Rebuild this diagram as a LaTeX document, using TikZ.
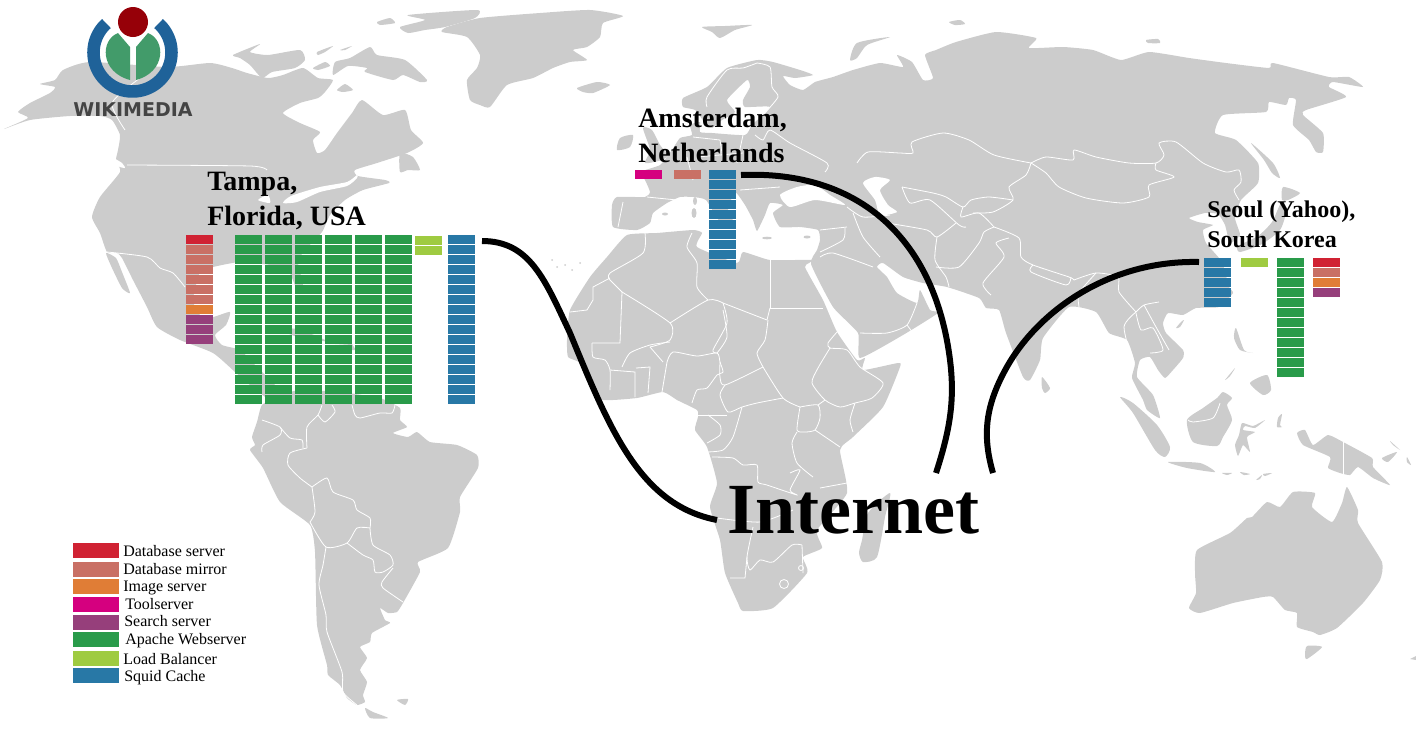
\documentclass[tikz,border=0pt]{standalone}
\usepackage{fontspec}
\setmainfont{Liberation Serif}
\newfontfamily\logofont{DejaVu Sans}
\usetikzlibrary{positioning}
\definecolor{mapgrey}{HTML}{CCCCCC}
\definecolor{dbserver}{HTML}{D02233}
\definecolor{dbmirror}{HTML}{C97065}
\definecolor{imgserver}{HTML}{E07D36}
\definecolor{toolserver}{HTML}{D5007F}
\definecolor{searchserver}{HTML}{963F7B}
\definecolor{apacheweb}{HTML}{299B4A}
\definecolor{loadbal}{HTML}{9FCB41}
\definecolor{squidcache}{HTML}{2878A6}
\definecolor{logoblue}{HTML}{1F6299}
\definecolor{logogreen}{HTML}{429B6A}
\definecolor{logored}{HTML}{960008}
\definecolor{logotext}{HTML}{444444}
\tikzset{
  land/.style={fill=mapgrey},
  water/.style={fill=white},
  border/.style={draw=white, line width=0.6pt},
  rack/.style={anchor=north west, inner sep=0pt, minimum width=20.25pt, minimum height=6.75pt},
  swatch/.style={anchor=north west, inner sep=0pt, minimum width=34.5pt, minimum height=11.25pt},
  legendtext/.style={anchor=base west, inner sep=0pt, font=\fontsize{12}{14}\selectfont},
  citybig/.style={anchor=north west, inner sep=0pt, align=left, font=\bfseries\fontsize{21}{26.25}\selectfont},
  citysmall/.style={anchor=north west, inner sep=0pt, align=left, font=\bfseries\fontsize{18}{22.5}\selectfont},
  wire/.style={draw=black, line width=4.5pt}
}
\begin{document}
\begin{tikzpicture}[x=0.75pt,y=-0.75pt]
\useasboundingbox (0,0) rectangle (1416,729);
% north america
\fill[land] plot[smooth cycle,tension=.35] coordinates {(4,129) (28,118) (18,112) (30,103) (50,93) (55,87) (40,84) (55,80) (63,70) (90,62) (167,67) (210,63) (232,68) (247,73) (268,78) (283,75) (303,68) (318,78) (333,80) (325,92) (318,98) (300,103) (283,113) (300,123) (320,132) (313,140) (317,153) (325,150) (337,133) (352,113) (362,100) (383,115) (405,110) (411,130) (423,143) (407,153) (377,163) (355,170) (358,176) (385,180) (389,183) (363,190) (345,200) (330,215) (322,232) (305,250) (298,262) (303,285) (298,292) (288,270) (270,265) (240,262) (213,267) (200,272) (193,300) (200,315) (213,317) (230,312) (226,325) (215,335) (222,345) (240,350) (255,365) (275,385) (285,398) (270,400) (250,385) (235,372) (213,353) (180,340) (157,327) (147,307) (133,280) (122,258) (117,253) (107,252) (100,233) (92,217) (100,197) (120,172) (116,160) (118,150) (120,135) (112,120) (100,116) (70,116) (30,120)};
\fill[land] plot[smooth cycle,tension=.35] coordinates {(106,253) (116,258) (122,272) (130,293) (122,288) (112,268)};
% arctic islands
\fill[land] plot[smooth cycle,tension=.35] coordinates {(233,55) (260,44) (250,52) (268,55) (300,50) (305,60) (295,68) (272,72) (262,78) (250,65) (240,58)};
\fill[land] plot[smooth cycle,tension=.35] coordinates {(313,68) (325,62) (330,66) (318,70)};
\fill[land] plot[smooth cycle,tension=.35] coordinates {(317,52) (333,46) (325,52) (318,55)};
\fill[land] plot[smooth cycle,tension=.35] coordinates {(340,50) (352,46) (345,50)};
\fill[land] plot[smooth cycle,tension=.35] coordinates {(350,58) (370,47) (377,55) (405,60) (427,80) (420,82) (403,75) (393,80) (365,72) (367,68) (348,66) (333,75) (335,62)};
\fill[land] plot[smooth cycle,tension=.35] coordinates {(337,90) (345,84) (353,90) (343,92)};
\fill[land] plot[smooth cycle,tension=.35] coordinates {(400,27) (425,20) (408,15) (477,10) (475,18) (445,27) (425,30) (408,33)};
\fill[land] plot[smooth cycle,tension=.35] coordinates {(377,22) (390,18) (395,23) (380,25)};
\fill[land] plot[smooth cycle,tension=.35] coordinates {(400,153) (413,157) (420,170) (408,170) (400,172)};
% greenland, iceland
\fill[land] plot[smooth cycle,tension=.35] coordinates {(442,32) (447,27) (480,18) (540,13) (590,10) (623,16) (603,23) (600,37) (587,47) (573,50) (587,60) (570,62) (553,68) (533,78) (507,85) (490,107) (480,105) (470,100) (467,80) (477,68) (480,55) (467,37)};
\fill[land] plot[smooth cycle,tension=.35] coordinates {(577,88) (597,82) (610,85) (593,93) (583,92)};
% eurasia
\fill[land] plot[smooth cycle,tension=.3] coordinates {(613,227) (637,230) (650,223) (653,213) (667,203) (680,197) (693,197) (706,200) (720,222) (735,225) (728,210) (735,192) (745,205) (753,220) (757,231) (765,215) (770,203) (783,205) (773,213) (780,227) (800,227) (818,230) (820,240) (817,250) (811,264) (833,307) (858,333) (860,358) (903,335) (938,313) (930,310) (920,290) (917,303) (897,293) (887,277) (877,267) (883,263) (903,277) (923,283) (947,287) (979,298) (986,308) (999,310) (1006,333) (1023,377) (1030,380) (1040,360) (1043,338) (1069,307) (1096,312) (1109,333) (1127,340) (1135,363) (1132,378) (1143,400) (1147,410) (1160,418) (1153,395) (1137,377) (1140,360) (1150,357) (1158,370) (1165,378) (1173,370) (1183,358) (1183,350) (1166,333) (1163,323) (1168,313) (1183,315) (1196,308) (1219,307) (1233,293) (1229,287) (1222,262) (1206,243) (1203,230) (1213,225) (1198,222) (1189,218) (1205,213) (1218,214) (1225,225) (1230,243) (1240,235) (1235,218) (1241,200) (1258,183) (1258,163) (1236,140) (1215,133) (1223,115) (1266,112) (1269,102) (1286,105) (1289,98) (1296,100) (1293,125) (1309,140) (1316,152) (1323,152) (1323,133) (1303,115) (1306,110) (1346,97) (1329,87) (1333,82) (1363,87) (1349,77) (1329,77) (1273,63) (1269,68) (1226,63) (1189,58) (1149,52) (1121,60) (1093,50) (1063,47) (1029,48) (1036,38) (996,32) (956,42) (936,50) (925,55) (933,78) (923,80) (912,62) (897,55) (903,67) (880,63) (853,70) (833,77) (815,82) (803,90) (790,85) (783,76) (795,78) (813,75) (800,70) (773,62) (757,60) (727,68) (707,87) (683,98) (683,107) (695,110) (705,123) (712,128) (722,120) (735,112) (727,100) (747,80) (750,87) (743,100) (745,107) (770,107) (752,125) (745,135) (712,133) (700,132) (700,122) (690,125) (692,135) (680,138) (672,150) (660,165) (640,172) (645,180) (650,192) (645,197) (617,197) (612,205)};
\fill[water] plot[smooth cycle,tension=.4] coordinates {(780,195) (797,187) (815,185) (830,195) (845,205) (815,200) (790,207)};
\fill[water] plot[smooth cycle,tension=.4] coordinates {(863,183) (875,177) (890,180) (880,190) (888,205) (897,212) (880,215) (875,200)};
\fill[water] plot[smooth cycle,tension=.4] coordinates {(283,203) (291,196) (320,187) (347,182) (357,175) (357,178) (347,186) (320,192) (297,202)};
\fill[water] plot[smooth cycle,tension=.4] coordinates {(258,200) (268,195) (270,203)};
\fill[water] plot[smooth cycle,tension=.4] coordinates {(113,158) (122,163) (125,168) (118,166)};
% africa
\fill[land] plot[smooth cycle,tension=.3] coordinates {(627,235) (607,257) (590,277) (570,310) (567,340) (568,357) (580,363) (590,387) (603,400) (637,398) (663,392) (677,400) (697,410) (698,417) (695,430) (707,447) (717,483) (710,507) (720,540) (725,573) (738,603) (743,611) (773,608) (807,573) (803,557) (822,548) (817,530) (847,493) (840,450) (853,437) (883,407) (900,367) (898,363) (863,370) (865,358) (857,360) (837,332) (823,300) (805,267) (813,260) (770,260) (743,252) (737,263) (697,247) (702,233) (693,230) (657,233)};
\fill[land] plot[smooth cycle,tension=.4] coordinates {(890,493) (885,517) (877,557) (863,562) (859,553) (862,540) (868,513)};
% south america
\fill[land] plot[smooth cycle,tension=.3] coordinates {(262,405) (280,395) (300,390) (340,392) (380,398) (400,408) (400,420) (407,427) (393,433) (408,437) (417,432) (430,442) (457,445) (477,455) (478,468) (460,497) (460,512) (448,548) (418,562) (420,572) (403,603) (397,612) (388,613) (380,608) (385,620) (390,623) (372,633) (370,642) (360,647) (367,658) (360,670) (367,682) (363,695) (365,702) (357,705) (347,698) (340,685) (328,675) (327,665) (317,625) (315,552) (310,525) (280,502) (263,468) (250,450) (255,445) (252,437) (257,422)};
\fill[land] plot[smooth cycle,tension=.4] coordinates {(365,708) (373,712) (388,718) (370,718)};
\fill[land] plot[smooth cycle,tension=.4] coordinates {(397,700) (408,699) (405,705)};
% australia and the islands
\fill[land] plot[smooth cycle,tension=.3] coordinates {(1197,550) (1230,533) (1247,518) (1252,517) (1267,502) (1280,507) (1293,492) (1315,493) (1312,507) (1332,522) (1342,503) (1347,487) (1358,510) (1358,523) (1382,562) (1380,580) (1363,603) (1337,628) (1320,635) (1313,632) (1297,627) (1297,613) (1285,610) (1273,597) (1263,597) (1233,603) (1200,613) (1189,608) (1196,593) (1195,573)};
\fill[land] plot[smooth cycle,tension=.4] coordinates {(1307,646) (1322,647) (1307,659) (1305,655)};
\fill[land] plot[smooth cycle,tension=.3] coordinates {(1297,433) (1305,430) (1313,445) (1328,435) (1343,442) (1372,458) (1373,467) (1390,485) (1373,478) (1358,467) (1350,475) (1340,473) (1328,468) (1330,457) (1303,445)};
\fill[land] plot[smooth cycle,tension=.4] coordinates {(1120,397) (1133,403) (1157,425) (1170,447) (1165,457) (1155,450) (1133,413)};
\fill[land] plot[smooth cycle,tension=.4] coordinates {(1187,420) (1203,408) (1217,398) (1223,392) (1232,398) (1227,405) (1232,420) (1223,437) (1217,446) (1193,442)};
\fill[land] plot[smooth cycle,tension=.3] coordinates {(1265,420) (1253,426) (1242,423) (1239,435) (1235,445) (1238,456) (1243,445) (1250,452) (1247,437) (1255,432) (1243,430) (1245,426) (1255,428)};
\fill[land] plot[smooth cycle,tension=.4] coordinates {(1168,462) (1200,463) (1215,472) (1187,468)};
\fill[land] plot[smooth cycle,tension=.4] coordinates {(1222,473) (1232,473) (1227,475)};
\fill[land] plot[smooth cycle,tension=.4] coordinates {(1240,472) (1250,474) (1244,475)};
\fill[land] plot[smooth cycle,tension=.4] coordinates {(1256,480) (1262,475) (1260,479)};
\fill[land] plot[smooth cycle,tension=.4] coordinates {(1263,474) (1272,473) (1265,476)};
\fill[land] plot[smooth cycle,tension=.4] coordinates {(1250,383) (1267,375) (1271,390) (1263,395)};
\fill[land] plot[smooth cycle,tension=.4] coordinates {(1225,380) (1235,368) (1230,376)};
\fill[land] plot[smooth cycle,tension=.4] coordinates {(1236,328) (1244,350) (1253,353) (1240,350) (1234,338)};
\fill[land] plot[smooth cycle,tension=.4] coordinates {(1181,322) (1184,320) (1180,327) (1176,328)};
\fill[land] plot[smooth cycle,tension=.4] coordinates {(1278,418) (1282,414) (1280,425) (1282,427) (1277,427)};
\fill[land] plot[smooth cycle,tension=.4] coordinates {(1382,458) (1397,452) (1388,462)};
\fill[land] plot[smooth cycle,tension=.4] coordinates {(1390,441) (1400,450) (1393,445)};
\fill[land] plot[smooth cycle,tension=.4] coordinates {(1407,457) (1411,465) (1407,462)};
\fill[land] (1410,659) -- (1416,656) -- (1416,660) -- cycle;
\fill[land] plot[smooth cycle,tension=.4] coordinates {(1042,377) (1050,388) (1045,393) (1042,388)};
% japan and sakhalin
\fill[land] plot[smooth cycle,tension=.4] coordinates {(1281,203) (1286,212) (1280,230) (1262,244) (1240,252) (1238,246) (1258,236) (1272,222)};
\fill[land] plot[smooth cycle,tension=.4] coordinates {(1283,187) (1300,193) (1288,200) (1282,200)};
\fill[land] plot[smooth cycle,tension=.4] coordinates {(1251,143) (1273,163) (1280,178) (1272,173) (1264,160)};
% europe islands
\fill[land] plot[smooth cycle,tension=.4] coordinates {(617,150) (620,138) (633,135) (630,147)};
\fill[land] plot[smooth cycle,tension=.4] coordinates {(643,128) (652,130) (660,145) (668,155) (662,160) (645,163) (650,150)};
\fill[land] plot[smooth cycle,tension=.4] coordinates {(850,60) (857,43) (890,37) (867,45) (857,58)};
\fill[land] plot[smooth cycle,tension=.4] coordinates {(702,27) (725,26) (752,25) (735,30) (720,38) (712,32)};
\fill[land] plot[smooth cycle,tension=.4] coordinates {(949,22) (960,20) (965,24) (955,25)};
\fill[land] plot[smooth cycle,tension=.4] coordinates {(1146,40) (1158,39) (1160,43) (1148,43)};
\fill[land] (695,201) ellipse[x radius=2,y radius=4];
\fill[land] (694,213) ellipse[x radius=2.5,y radius=5];
\fill[land] (665,214) ellipse[x radius=3,y radius=1.5];
\fill[land] (767,238) ellipse[x radius=5,y radius=1.3];
\fill[land] (807,237) ellipse[x radius=3.5,y radius=1.5];
\fill[land] (270,327) -- (300,329) -- (330,342) -- (300,338) -- cycle;
\fill[land] (335,345) -- (352,344) -- (356,350) -- (338,350) -- cycle;
\foreach \dotx/\doty in {552/260,557/267,565/265,572/270,580/263}
  \fill[land] (\dotx,\doty) circle[radius=1];
% borders
\draw[border] plot[smooth,tension=.4] coordinates {(127,165) (250,166) (267,170)};
\draw[border] plot[smooth,tension=.4] coordinates {(140,78) (112,103) (125,130)};
\draw[border] plot[smooth,tension=.4] coordinates {(107,252) (147,257) (160,268) (173,273) (185,287)};
\draw[border] plot[smooth,tension=.4] coordinates {(262,420) (280,427) (280,435) (263,445) (262,452)};
\draw[border] plot[smooth,tension=.4] coordinates {(280,427) (290,438) (302,440) (303,448)};
\draw[border] plot[smooth,tension=.4] coordinates {(307,448) (290,453) (288,465) (300,478) (312,487)};
\draw[border] plot[smooth,tension=.4] coordinates {(307,448) (307,427) (318,415) (322,405)};
\draw[border] plot[smooth,tension=.4] coordinates {(318,415) (325,422) (335,412) (332,405)};
\draw[border] plot[smooth,tension=.4] coordinates {(352,405) (355,415) (360,418) (380,413) (392,413) (395,405)};
\draw[border] plot[smooth,tension=.4] coordinates {(312,487) (327,478) (333,492) (353,500) (357,510) (370,518) (370,528)};
\draw[border] plot[smooth,tension=.4] coordinates {(312,487) (315,512) (310,522)};
\draw[border] plot[smooth,tension=.4] coordinates {(310,522) (326,547) (347,543) (357,528) (370,528)};
\draw[border] plot[smooth,tension=.4] coordinates {(347,543) (363,555) (373,560) (375,572) (383,572) (393,565) (390,555) (373,545) (370,528)};
\draw[border] plot[smooth,tension=.4] coordinates {(326,547) (323,565) (319,585) (326,615) (327,632) (342,672) (343,692) (357,705)};
\draw[border] plot[smooth,tension=.4] coordinates {(393,568) (382,582) (383,588) (403,602)};
\draw[border] plot[smooth,tension=.4] coordinates {(645,233) (643,253) (610,273) (610,280)};
\draw[border] (610,278) -- (593,287) -- (593,300) -- (587,310) -- (570,312);
\draw[border] (610,280) -- (622,292) -- (620,343) -- (592,343);
\draw[border] plot[smooth,tension=.4] coordinates {(622,292) (670,323) (670,340) (650,347)};
\draw[border] plot[smooth,tension=.4] coordinates {(670,323) (708,300) (723,303)};
\draw[border] (770,257) -- (770,308) -- (823,308);
\draw[border] (723,303) -- (767,320) -- (770,308);
\draw[border] plot[smooth,tension=.4] coordinates {(708,300) (697,287) (697,263) (687,247) (692,233)};
\draw[border] plot[smooth,tension=.4] coordinates {(723,303) (727,323) (713,350) (717,353)};
\draw[border] plot[smooth,tension=.4] coordinates {(670,342) (650,345) (630,353) (622,367)};
\draw[border] plot[smooth,tension=.4] coordinates {(667,362) (673,352) (697,356) (717,353) (720,362) (723,372) (717,375) (707,388) (697,390) (692,403)};
\draw[border] plot[smooth,tension=.4] coordinates {(717,353) (727,337) (723,310)};
\draw[border] plot[smooth,tension=.4] coordinates {(720,362) (720,377) (725,385) (763,367)};
\draw[border] plot[smooth,tension=.4] coordinates {(763,367) (757,353) (765,340) (768,320)};
\draw[border] plot[smooth,tension=.4] coordinates {(725,385) (720,395) (728,412) (742,407) (757,403) (783,398)};
\draw[border] plot[smooth,tension=.4] coordinates {(763,367) (783,398) (800,407)};
\draw[border] plot[smooth,tension=.4] coordinates {(837,332) (828,343) (830,348) (847,350) (860,367) (883,383) (872,398) (855,403) (840,407) (825,400) (812,383) (818,368) (830,348)};
\draw[border] plot[smooth,tension=.4] coordinates {(800,407) (818,405) (820,418) (815,430) (805,432) (797,430) (800,407)};
\draw[border] (825,400) -- (818,405);
\draw[border] plot[smooth,tension=.4] coordinates {(855,403) (850,420) (853,432)};
\draw[border] plot[smooth,tension=.4] coordinates {(815,430) (840,447)};
\draw[border] plot[smooth,tension=.4] coordinates {(797,432) (792,443) (797,463) (813,477)};
\draw[border] plot[smooth,tension=.4] coordinates {(790,473) (800,470) (790,490) (797,495) (767,485) (758,482) (757,465) (743,465) (733,458) (712,457)};
\draw[border] plot[smooth,tension=.4] coordinates {(742,407) (733,437) (723,450) (707,452)};
\draw[border] (697,415) -- (727,415);
\draw[border] plot[smooth,tension=.4] coordinates {(708,415) (720,425) (720,435) (707,443)};
\draw[border] plot[smooth,tension=.4] coordinates {(592,343) (593,357) (605,360) (610,370) (610,390)};
\draw[border] (610,370) -- (635,372) -- (635,397);
\draw[border] (636,368) -- (650,367) -- (648,393);
\draw[border] (667,362) -- (662,392);
\draw[border] (650,347) -- (663,362);
\draw[border] plot[smooth,tension=.4] coordinates {(717,518) (760,522) (793,510)};
\draw[border] (820,488) -- (847,483);
\draw[border] plot[smooth,tension=.4] coordinates {(753,527) (747,557) (750,570) (760,560) (773,562) (792,545) (802,545)};
\draw[border] (747,557) -- (745,578) -- (730,578);
\draw[border] (802,545) -- (803,573);
\draw[border] (784,584) circle[radius=4.5];
\draw[border] (801,568) circle[radius=2.5];
\draw[border] plot[smooth,tension=.4] coordinates {(857,163) (868,152) (900,153) (913,153) (912,142) (943,133) (969,140) (994,155) (1031,163)};
\draw[border] plot[smooth,tension=.4] coordinates {(1031,163) (1046,157) (1073,160) (1074,150) (1096,157) (1129,163) (1156,163) (1164,155) (1159,143) (1176,142) (1203,163) (1226,172) (1239,170) (1241,182) (1234,190) (1239,200)};
\draw[border] plot[smooth,tension=.4] coordinates {(1031,163) (1046,173) (1059,187) (1086,198) (1123,203) (1149,197) (1149,185) (1174,177) (1156,170) (1156,163)};
\draw[border] plot[smooth,tension=.4] coordinates {(1031,163) (1026,175) (1009,187) (1013,200) (993,212) (973,213)};
\draw[border] plot[smooth,tension=.4] coordinates {(902,187) (933,193) (946,197) (963,207) (971,200) (989,197) (1013,200)};
\draw[border] plot[smooth,tension=.4] coordinates {(963,207) (961,217) (979,213) (994,227)};
\draw[border] plot[smooth,tension=.4] coordinates {(902,187) (910,203) (930,200) (959,225) (966,227)};
\draw[border] plot[smooth,tension=.4] coordinates {(936,267) (959,267) (979,243) (984,232) (994,227)};
\draw[border] plot[smooth,tension=.4] coordinates {(937,237) (935,260) (946,277) (949,287)};
\draw[border] plot[smooth,tension=.4] coordinates {(887,223) (927,230) (937,237) (956,223)};
\draw[border] plot[smooth,tension=.4] coordinates {(994,227) (1019,238) (1021,257) (1033,265) (1069,277) (1074,280)};
\draw[border] plot[smooth,tension=.4] coordinates {(1009,238) (996,243) (1004,257) (983,283) (991,295)};
\draw[border] plot[smooth,tension=.4] coordinates {(1033,265) (1031,272) (1066,285) (1071,277)};
\draw[border] plot[smooth,tension=.4] coordinates {(1074,280) (1096,273) (1118,277) (1119,292) (1136,312)};
\draw[border] plot[smooth,tension=.4] coordinates {(1096,273) (1079,293) (1079,307)};
\draw[border] plot[smooth,tension=.4] coordinates {(1136,312) (1124,327) (1133,365)};
\draw[border] plot[smooth,tension=.4] coordinates {(1136,312) (1144,305) (1159,302)};
\draw[border] plot[smooth,tension=.4] coordinates {(1144,305) (1156,327) (1169,350)};
\draw[border] plot[smooth,tension=.4] coordinates {(1136,313) (1141,330) (1153,328) (1163,350) (1150,353)};
\draw[border] plot[smooth,tension=.4] coordinates {(757,63) (770,67) (772,87) (778,97) (763,115)};
\draw[border] plot[smooth,tension=.4] coordinates {(757,63) (743,68) (727,70) (707,97) (707,107)};
\draw[border] plot[smooth,tension=.4] coordinates {(755,135) (763,140) (770,130) (790,143) (827,163) (825,172)};
\draw[border] (693,137) -- (720,140) -- (723,160);
\draw[border] (697,157) -- (743,153);
\draw[border] (743,135) -- (737,163);
\draw[border] (687,157) -- (693,180);
\draw[border] (740,190) -- (780,187);
\draw[border] (647,197) -- (677,200);
\draw[border] (623,202) -- (618,227);
\draw[border] plot[smooth,tension=.4] coordinates {(847,207) (863,217) (890,215)};
\draw[border] plot[smooth,tension=.4] coordinates {(853,213) (863,237) (880,257)};
\draw[border] (820,230) -- (847,227);
\draw[border] plot[smooth,tension=.4] coordinates {(845,228) (843,240) (820,252)};
\draw[border] plot[smooth,tension=.4] coordinates {(820,257) (833,253) (873,267)};
\draw[border] plot[smooth,tension=.4] coordinates {(860,333) (887,333) (907,325) (917,303)};
\draw[border] (907,325) -- (913,333);
\draw[border] plot[smooth,tension=.4] coordinates {(1188,420) (1193,422) (1213,418) (1220,403)};
\draw[border] (1343,442) -- (1343,475);
% logo
\draw[line width=9.4pt, draw=logoblue] plot[domain=132:408, samples=70] ({132.5+39*cos(\x)},{52.5-39*sin(\x)});
\fill[logogreen] (130,47) -- (118,33) .. controls (100,40) and (100,72) .. (130,80) -- cycle;
\fill[logogreen] (136,47) -- (148,33) .. controls (166,40) and (166,72) .. (136,80) -- cycle;
\fill[logored] (133,22) circle[radius=15];
\node[anchor=base, inner sep=0pt, text=logotext, font=\logofont\bfseries\fontsize{14.25}{16}\selectfont] (logoname) at (133,116) {WIKIMEDIA};
% tampa racks
\foreach \row [evaluate=\row as \ypos using 235+10*\row] in {0,...,16} {
  \foreach \col in {235,265,...,385}
    \node[rack,fill=apacheweb] (tapache\col-\row) at (\col,\ypos) {};
  \node[rack,fill=squidcache] (tsquid\row) at (448,\ypos) {};
}
\node[rack,fill=loadbal] (tlb0) at (415,236) {};
\node[rack,fill=loadbal] (tlb1) at (415,246) {};
\node[rack,fill=dbserver] (tdb) at (186,235) {};
\foreach \row [evaluate=\row as \ypos using 235+10*\row] in {1,...,6}
  \node[rack,fill=dbmirror] (tmirror\row) at (186,\ypos) {};
\node[rack,fill=imgserver] (timg) at (186,305) {};
\foreach \row [evaluate=\row as \ypos using 235+10*\row] in {8,...,10}
  \node[rack,fill=searchserver] (tsearch\row) at (186,\ypos) {};
% amsterdam racks
\node[rack,fill=toolserver] (atool) at (635,170) {};
\node[rack,fill=dbmirror] (amirror) at (674,170) {};
\foreach \row [evaluate=\row as \ypos using 170+10*\row] in {0,...,9}
  \node[rack,fill=squidcache] (asquid\row) at (709,\ypos) {};
% seoul racks
\foreach \row [evaluate=\row as \ypos using 258+10*\row] in {0,...,4}
  \node[rack,fill=squidcache] (ssquid\row) at (1204,\ypos) {};
\node[rack,fill=loadbal] (slb) at (1241,258) {};
\foreach \row [evaluate=\row as \ypos using 258+10*\row] in {0,...,11}
  \node[rack,fill=apacheweb] (sapache\row) at (1277,\ypos) {};
\node[rack,fill=dbserver] (sdb) at (1313,258) {};
\node[rack,fill=dbmirror] (smirror) at (1313,268) {};
\node[rack,fill=imgserver] (simg) at (1313,278) {};
\node[rack,fill=searchserver] (ssearch) at (1313,288) {};
% labels
\node[citybig] (tampa) at (207,172) {Tampa,\\Florida, USA};
\node[citybig] (amsterdam) at (638,108) {Amsterdam,\\Netherlands};
\node[citysmall] (seoul) at (1207,201) {Seoul (Yahoo),\\South Korea};
\node[anchor=base west, inner sep=0pt, font=\bfseries\fontsize{54}{60}\selectfont] (inet) at (727,533) {Internet};
% wires
\coordinate (tampaout) at (482,241);
\coordinate (inetleft) at (717,520);
\coordinate (amsout) at (741,175);
\coordinate (inetmid) at (936,473);
\coordinate (seoulout) at (1199,262);
\coordinate (inetright) at (993,473);
\draw[wire] (tampaout) .. controls (530,241) and (545,280) .. (570,333) .. controls (610,430) and (640,505) .. (inetleft);
\draw[wire] (amsout) .. controls (860,170) and (935,240) .. (950,360) .. controls (955,400) and (950,430) .. (inetmid);
\draw[wire] (seoulout) .. controls (1110,260) and (1040,310) .. (1008,365) .. controls (985,405) and (982,435) .. (inetright);
% legend
\foreach \i/\ytop/\colr/\tx/\ty/\lbl in {
  0/543/dbserver/123/556/Database server,
  1/562/dbmirror/123/574/Database mirror,
  2/579/imgserver/123/591/Image server,
  3/597/toolserver/125/609/Toolserver,
  4/615/searchserver/124/626/Search server,
  5/632/apacheweb/125/644/Apache Webserver,
  6/651/loadbal/123/664/Load Balancer,
  7/668/squidcache/124/681/Squid Cache} {
  \node[swatch,fill=\colr] (swatch\i) at (73,\ytop) {};
  \node[legendtext] (legend\i) at (\tx,\ty) {\lbl};
}
\end{tikzpicture}
\end{document}
